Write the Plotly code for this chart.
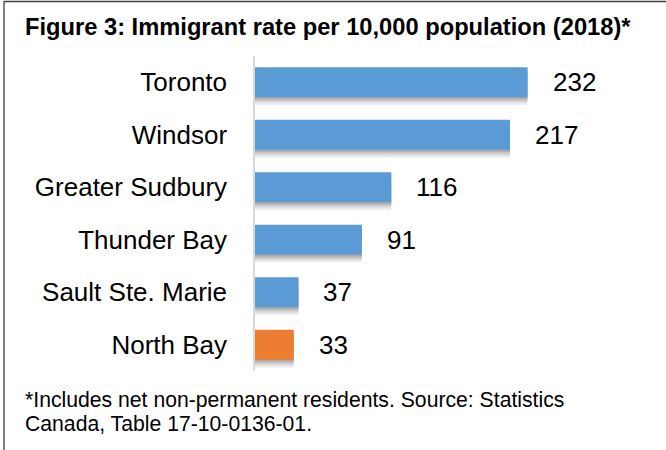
import plotly.graph_objects as go

# Immigrant rate per 10,000 population, 2018
cities = ["Toronto", "Windsor", "Greater Sudbury", "Thunder Bay", "Sault Ste. Marie", "North Bay"]
rates = [232, 217, 116, 91, 37, 33]
bar_colors = ["#5B9BD5", "#5B9BD5", "#5B9BD5", "#5B9BD5", "#5B9BD5", "#ED7D31"]

title_text = "Figure 3: Immigrant rate per 10,000 population (2018)*"
note_lines = [
    "*Includes net non-permanent residents. Source: Statistics",
    "Canada, Table 17-10-0136-01.",
]

W, H = 666, 450
L, R, T, B = 255, 584, 56, 371  # plot area in pixels
FONT = "Liberation Sans, Arial, sans-serif"
BAR_W = 0.57
BAND = (B - T) / len(cities)


def px_x(x):
    return (x - L) / (R - L)


def px_y(y):
    return (B - y) / (B - T)


fig = go.Figure()

# soft drop shadow under each bar, built from stacked translucent copies
for shift, alpha in [(2, 0.13), (4, 0.10), (6, 0.08), (8, 0.06)]:
    fig.add_trace(go.Bar(
        y=cities, x=rates, orientation="h",
        width=BAR_W, offset=-BAR_W / 2 + shift / BAND,
        marker=dict(color=f"rgba(0,0,0,{alpha})", line=dict(width=0)),
        hoverinfo="skip", showlegend=False,
    ))

fig.add_trace(go.Bar(
    y=cities, x=rates, orientation="h",
    width=BAR_W, offset=-BAR_W / 2,
    marker=dict(color=bar_colors, line=dict(width=0)),
    showlegend=False,
))

annotations = []
for city, val in zip(cities, rates):
    annotations.append(dict(
        x=val, y=city, xref="x", yref="y", text=str(val),
        showarrow=False, xanchor="left", yanchor="middle", xshift=23,
        font=dict(family=FONT, size=26, color="#000000"),
    ))

annotations.append(dict(
    x=px_x(23), y=px_y(27), xref="paper", yref="paper", text=f"<b>{title_text}</b>",
    showarrow=False, xanchor="left", yanchor="middle",
    font=dict(family=FONT, size=23.7, color="#000000"),
))
for i, line in enumerate(note_lines):
    annotations.append(dict(
        x=px_x(23), y=px_y(400 + i * 23.5), xref="paper", yref="paper", text=line,
        showarrow=False, xanchor="left", yanchor="middle",
        font=dict(family=FONT, size=21.2, color="#000000"),
    ))

shapes = [
    # outer frame (left and top edges)
    dict(type="line", xref="paper", yref="paper",
         x0=px_x(4), x1=px_x(4), y0=px_y(1), y1=px_y(H + 5),
         line=dict(color="#3F3F3F", width=1.3)),
    dict(type="line", xref="paper", yref="paper",
         x0=px_x(4), x1=px_x(W + 5), y0=px_y(1.5), y1=px_y(1.5),
         line=dict(color="#3F3F3F", width=1.3)),
]

fig.update_layout(
    width=W, height=H,
    margin=dict(l=L, r=W - R, t=T, b=H - B, pad=0),
    paper_bgcolor="#FFFFFF", plot_bgcolor="#FFFFFF",
    barmode="overlay",
    xaxis=dict(range=[0, 280], visible=False, fixedrange=True),
    yaxis=dict(
        type="category", categoryorder="array", categoryarray=cities,
        range=[len(cities) - 0.5, -0.5],
        showline=True, linecolor="#D9D9D9", linewidth=1.5,
        showgrid=False, zeroline=False, ticks="",
        ticklabelstandoff=21,
        tickfont=dict(family=FONT, size=26, color="#000000"),
        fixedrange=True,
    ),
    annotations=annotations,
    shapes=shapes,
    font=dict(family=FONT),
)

fig.write_html("out.html")
